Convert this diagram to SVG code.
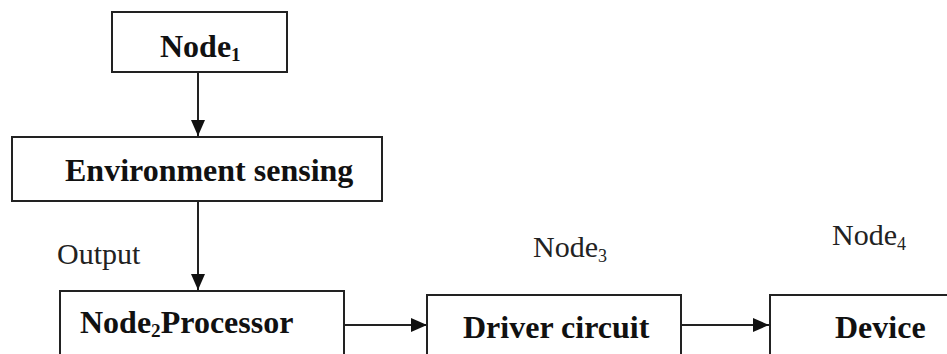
<svg xmlns="http://www.w3.org/2000/svg" width="947" height="354" viewBox="0 0 947 354">
<defs>
<style>
.box{fill:#fff;stroke:#222;stroke-width:2}
.lbl{font-family:"Liberation Serif","Times New Roman",serif;font-weight:bold;font-size:32px;fill:#111}
.note{font-family:"Liberation Serif","Times New Roman",serif;font-size:30px;fill:#222}
.sub{font-size:60%}
.edge{stroke:#222;stroke-width:2;fill:none;marker-end:url(#arr)}
</style>
<marker id="arr" viewBox="0 0 16 14" refX="16" refY="7" markerWidth="16" markerHeight="14" markerUnits="userSpaceOnUse" orient="auto">
<path d="M0,0 L16,7 L0,14 Z" fill="#111"/>
</marker>
</defs>
<rect width="947" height="354" fill="#fff"/>
<g id="connectors">
<line class="edge" x1="198" y1="72" x2="198" y2="136"/>
<line class="edge" x1="198" y1="201" x2="198" y2="290"/>
<line class="edge" x1="344" y1="325" x2="427" y2="325"/>
<line class="edge" x1="681" y1="325" x2="769" y2="325"/>
</g>
<g id="node1">
<rect class="box" x="112" y="12" width="175" height="60"/>
<text class="lbl" x="160" y="57">Node<tspan class="sub" dy="4">1</tspan></text>
</g>
<g id="env">
<rect class="box" x="12" y="137" width="370" height="64"/>
<text class="lbl" x="65" y="181">Environment sensing</text>
</g>
<g id="output-label">
<text class="note" x="57" y="264">Output</text>
</g>
<g id="node2">
<rect class="box" x="60" y="291" width="284" height="70"/>
<text class="lbl" x="80" y="333">Node<tspan class="sub" dy="4">2</tspan><tspan dy="-4">Processor</tspan></text>
</g>
<g id="node3">
<text class="note" x="533" y="257">Node<tspan class="sub" dy="5">3</tspan></text>
<rect class="box" x="427" y="295" width="254" height="70"/>
<text class="lbl" x="463" y="338">Driver circuit</text>
</g>
<g id="node4">
<text class="note" x="832" y="245">Node<tspan class="sub" dy="5">4</tspan></text>
<rect class="box" x="770" y="295" width="190" height="70"/>
<text class="lbl" x="835" y="338">Device</text>
</g>
</svg>
